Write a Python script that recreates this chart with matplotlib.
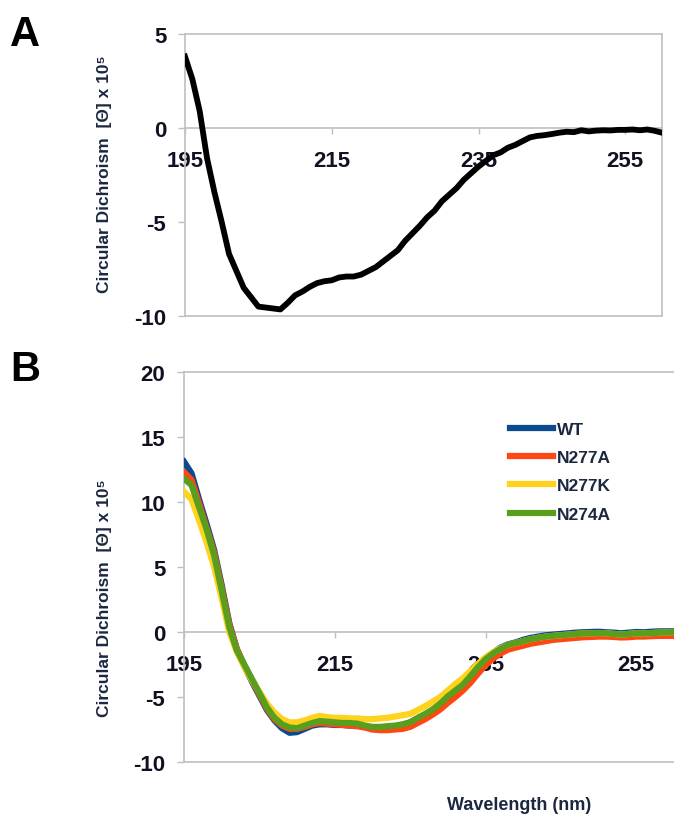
import numpy as np
import matplotlib
matplotlib.use("Agg")
import matplotlib.pyplot as plt

# Wavelength grid (nm)
wavelength = np.arange(195, 261)

# Panel A: single CD spectrum
cd_a = [3.8, 2.6, 0.9, -1.6, -3.4, -5.0, -6.7, -7.6, -8.5, -9.0,
        -9.5, -9.55, -9.6, -9.65, -9.3, -8.9, -8.7, -8.45, -8.25, -8.15,
        -8.1, -7.95, -7.9, -7.9, -7.8, -7.6, -7.4, -7.1, -6.8, -6.5,
        -6.0, -5.6, -5.2, -4.75, -4.4, -3.9, -3.55, -3.2, -2.75, -2.4,
        -2.05, -1.75, -1.45, -1.3, -1.05, -0.9, -0.7, -0.5, -0.42, -0.38,
        -0.32, -0.25, -0.2, -0.22, -0.12, -0.18, -0.14, -0.12, -0.13, -0.1,
        -0.1, -0.08, -0.12, -0.08, -0.15, -0.25]

# Panel B: WT and mutants
cd_wt = [13.1, 12.2, 10.2, 8.3, 6.3, 3.6, 0.7, -1.3, -2.6, -3.8,
         -4.9, -6.0, -6.8, -7.4, -7.75, -7.7, -7.45, -7.2, -7.1, -7.1,
         -7.15, -7.15, -7.2, -7.2, -7.3, -7.35, -7.35, -7.3, -7.25, -7.15,
         -6.95, -6.65, -6.35, -6.0, -5.6, -5.05, -4.55, -4.1, -3.45, -2.75,
         -2.1, -1.6, -1.2, -0.95, -0.8, -0.6, -0.45, -0.35, -0.25, -0.2,
         -0.15, -0.1, -0.05, -0.02, 0.0, 0.02, -0.02, -0.05, -0.1, -0.05,
         0.0, -0.02, 0.02, 0.05, 0.05, 0.05]
cd_n277a = [12.3, 11.7, 9.9, 8.0, 6.1, 3.4, 0.6, -1.3, -2.6, -3.7,
            -4.8, -5.9, -6.7, -7.2, -7.45, -7.45, -7.3, -7.1, -7.0, -7.05,
            -7.1, -7.15, -7.2, -7.25, -7.35, -7.5, -7.55, -7.55, -7.5, -7.45,
            -7.3, -7.0, -6.7, -6.35, -5.95, -5.45, -5.0, -4.5, -3.9, -3.2,
            -2.55, -2.05, -1.65, -1.35, -1.2, -1.05, -0.9, -0.8, -0.7, -0.6,
            -0.55, -0.5, -0.45, -0.4, -0.38, -0.35, -0.35, -0.38, -0.42, -0.4,
            -0.35, -0.35, -0.32, -0.3, -0.3, -0.3]
cd_n277k = [10.8, 10.2, 8.6, 6.9, 5.0, 2.6, 0.0, -1.5, -2.7, -3.7,
            -4.6, -5.5, -6.2, -6.7, -6.95, -6.95, -6.8, -6.6, -6.45, -6.55,
            -6.6, -6.6, -6.65, -6.65, -6.7, -6.7, -6.65, -6.6, -6.5, -6.4,
            -6.3, -6.0, -5.7, -5.35, -5.0, -4.5, -4.0, -3.55, -3.0, -2.45,
            -1.95, -1.55, -1.25, -1.0, -0.85, -0.7, -0.55, -0.45, -0.35, -0.3,
            -0.25, -0.2, -0.15, -0.12, -0.1, -0.08, -0.1, -0.15, -0.2, -0.15,
            -0.1, -0.12, -0.08, -0.05, -0.03, 0.0]
cd_n274a = [11.8, 11.3, 9.6, 7.9, 5.9, 3.2, 0.4, -1.4, -2.5, -3.6,
            -4.7, -5.8, -6.6, -7.1, -7.35, -7.4, -7.2, -7.0, -6.85, -6.9,
            -6.95, -7.0, -7.0, -7.05, -7.2, -7.3, -7.3, -7.25, -7.2, -7.1,
            -6.95, -6.6, -6.3, -5.95, -5.5, -4.95, -4.5, -4.05, -3.4, -2.7,
            -2.1, -1.65, -1.3, -1.0, -0.85, -0.7, -0.55, -0.45, -0.35, -0.3,
            -0.25, -0.2, -0.15, -0.12, -0.1, -0.08, -0.1, -0.15, -0.2, -0.15,
            -0.1, -0.12, -0.08, -0.05, -0.03, 0.0]

series_names = ['WT', 'N277A', 'N277K', 'N274A']
series_data = [cd_wt, cd_n277a, cd_n277k, cd_n274a]
series_colors = ['#0b4a8e', '#ff4714', '#ffd21e', '#5a9e1e']

x_ticks = [195, 215, 235, 255]
y_ticks_a = [-10, -5, 0, 5]
y_ticks_b = [-10, -5, 0, 5, 10, 15, 20]

font = ['Liberation Sans', 'DejaVu Sans']
plt.rcParams['font.family'] = font
plt.rcParams['font.weight'] = 'bold'
plt.rcParams['axes.unicode_minus'] = False

grid_col = '#bfbfbf'
text_col = '#111122'
label_col = '#1c2740'

fig = plt.figure(figsize=(6.74, 8.2), dpi=100)
W, H = 674, 820


def px_axes(left, top, right, bottom):
    return fig.add_axes([left / W, 1 - bottom / H, (right - left) / W, (bottom - top) / H])


def style_axes(ax, yticks, right_border=True):
    ax.set_xlim(195, 260)
    ax.set_ylim(yticks[0], yticks[-1])
    ax.set_xticks(x_ticks)
    ax.set_yticks(yticks)
    for s in ['left', 'top', 'right', 'bottom']:
        ax.spines[s].set_color(grid_col)
        ax.spines[s].set_linewidth(1.2)
    ax.spines['right'].set_visible(right_border)
    ax.spines['bottom'].set_position(('data', 0))
    ax.axhline(yticks[0], color=grid_col, lw=1.2, clip_on=False, zorder=1)
    ax.tick_params(axis='y', direction='out', length=5, width=1, color=grid_col,
                   pad=8.5, labelsize=16, labelcolor=text_col)
    ax.tick_params(axis='x', direction='out', length=4.5, width=1, color=grid_col,
                   pad=11, labelsize=16, labelcolor=text_col)
    for lab in ax.get_xticklabels() + ax.get_yticklabels():
        lab.set_fontweight('bold')


# Panel A
ax_a = px_axes(185, 35, 662, 317)
ax_a.plot(wavelength, cd_a, color='black', lw=4.2, solid_joinstyle='round', zorder=3)
style_axes(ax_a, y_ticks_a, right_border=True)

# Panel B
ax_b = px_axes(184, 373, 674, 763)
for name, vals, col in zip(series_names, series_data, series_colors):
    ax_b.plot(wavelength, vals, color=col, lw=4.5, label=name,
              solid_joinstyle='round', zorder=3)
style_axes(ax_b, y_ticks_b, right_border=False)
leg = ax_b.legend(loc='upper left', bbox_to_anchor=(510 / W, 1 - 423 / H),
                  bbox_transform=fig.transFigure, frameon=False,
                  handlelength=2.5, handletextpad=0.2, labelspacing=0.75,
                  borderpad=0, borderaxespad=0,
                  prop={'family': font, 'weight': 'bold', 'size': 12.5})
for t in leg.get_texts():
    t.set_color(label_col)

# Axis titles and panel letters
ylab = 'Circular Dichroism  [Θ] x 10⁵'
fig.text(104 / W, 1 - 174 / H, ylab, rotation=90, ha='center', va='center',
         fontsize=12.5, fontweight='bold', color=label_col)
fig.text(104 / W, 1 - 598 / H, ylab, rotation=90, ha='center', va='center',
         fontsize=12.5, fontweight='bold', color=label_col)
fig.text(519 / W, 1 - 806 / H, 'Wavelength (nm)', ha='center', va='center',
         fontsize=13, fontweight='bold', color=label_col)
fig.text(10 / W, 1 - 35 / H, 'A', ha='left', va='center', fontsize=30,
         fontweight='bold', color='black')
fig.text(10 / W, 1 - 370 / H, 'B', ha='left', va='center', fontsize=30,
         fontweight='bold', color='black')

fig.savefig('out.png', dpi=100)
